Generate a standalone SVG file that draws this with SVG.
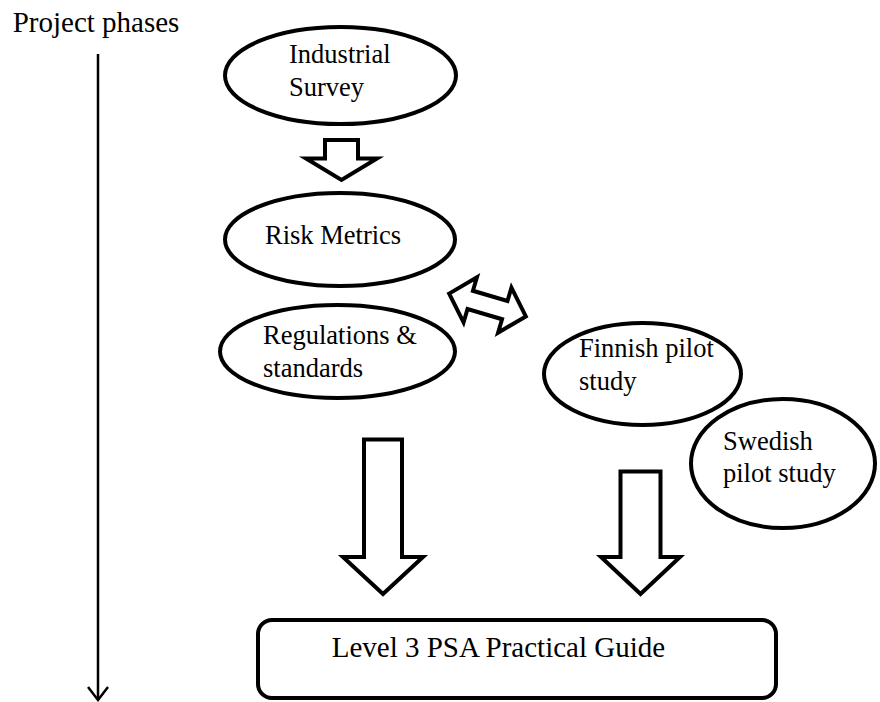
<svg xmlns="http://www.w3.org/2000/svg" width="880" height="702" viewBox="0 0 880 702">
<defs>
<style>
.node{fill:#fff;stroke:#000;stroke-width:4}
.blk{fill:#fff;stroke:#000;stroke-width:4;stroke-linejoin:miter}
.t{font-family:"Liberation Serif","Times New Roman",serif;font-size:26.5px;fill:#000}
.tb{font-family:"Liberation Serif","Times New Roman",serif;font-size:29px;fill:#000}
</style>
</defs>
<rect width="880" height="702" fill="#fff"/>
<text class="tb" x="12.7" y="31.7">Project phases</text>
<g id="connectors">
<line x1="98" y1="54" x2="98" y2="700" stroke="#000" stroke-width="2.5"/>
<polyline points="88,687 98,700 108,687" fill="none" stroke="#000" stroke-width="2.5"/>
<polygon class="blk" points="325,140 358,140 358,158.5 377,158.5 341.5,180 306,158.5 325,158.5"/>
<polygon class="blk" transform="translate(487.5,305) rotate(16.5)" points="-40,0 -18,-23.5 -18,-9.5 18,-9.5 18,-23.5 40,0 18,23.5 18,9.5 -18,9.5 -18,23.5"/>
<polygon class="blk" points="364,439.5 402,439.5 402,557 423,557 383,594 343,557 364,557"/>
<polygon class="blk" points="620.5,471.5 660.5,471.5 660.5,557 680,557 640.5,594 601,557 620.5,557"/>
</g>
<g id="industrial-survey">
<ellipse class="node" cx="340.5" cy="75.5" rx="115.5" ry="48.5"/>
<text class="t" x="289" y="63">Industrial</text>
<text class="t" x="289" y="96">Survey</text>
</g>
<g id="risk-metrics">
<ellipse class="node" cx="340" cy="239.5" rx="115" ry="46.5"/>
<text class="t" x="265" y="244">Risk Metrics</text>
</g>
<g id="regulations">
<ellipse class="node" cx="337.5" cy="351.5" rx="117.5" ry="46.5"/>
<text class="t" x="263" y="344.3">Regulations &amp;</text>
<text class="t" x="263" y="377.3">standards</text>
</g>
<g id="finnish-pilot">
<ellipse class="node" cx="642.5" cy="374" rx="98.5" ry="51"/>
<text class="t" x="579" y="356.7">Finnish pilot</text>
<text class="t" x="579" y="390">study</text>
</g>
<g id="swedish-pilot">
<ellipse class="node" cx="783" cy="463.5" rx="92" ry="64.5"/>
<text class="t" x="723" y="450">Swedish</text>
<text class="t" x="723" y="481.7">pilot study</text>
</g>
<g id="practical-guide">
<rect class="node" x="258" y="620" width="518" height="78" rx="14" ry="14"/>
<text class="tb" x="331.7" y="656.7">Level 3 PSA Practical Guide</text>
</g>
</svg>
